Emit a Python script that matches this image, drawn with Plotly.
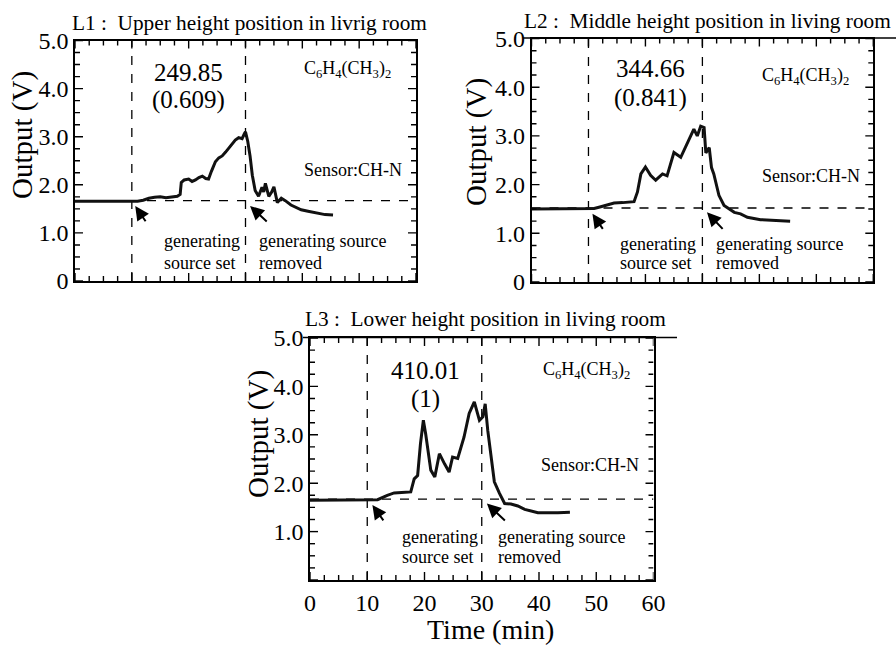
import plotly.graph_objects as go

# ---------------- data ----------------
t1 = [0, 5, 10, 11, 12, 13, 14, 15, 16, 17, 18, 18.5, 18.7, 19.2, 20, 20.6, 21.2, 21.8, 22.4, 23, 23.5,
      24.0, 24.7, 25.3, 25.9, 26.5, 27, 27.6, 28.2, 28.8, 29.4, 29.8, 30.0, 30.4, 30.8, 31.2, 31.7, 32.3,
      32.9, 33.2, 33.5, 34.1, 34.6, 35.0, 35.3, 35.6, 36.3, 37.0, 38, 39, 39.8, 41, 42.7, 44, 45.4]
v1 = [1.66, 1.66, 1.66, 1.66, 1.68, 1.72, 1.74, 1.75, 1.73, 1.75, 1.76, 1.80, 2.05, 2.10, 2.12, 2.07, 2.10,
      2.15, 2.18, 2.13, 2.12, 2.28, 2.48, 2.56, 2.60, 2.68, 2.76, 2.83, 2.93, 2.98, 2.96, 3.06, 3.10, 2.90,
      2.60, 2.20, 1.88, 1.76, 1.95, 1.85, 2.03, 1.76, 1.85, 1.96, 1.78, 1.63, 1.72, 1.67, 1.58, 1.53, 1.48,
      1.45, 1.41, 1.38, 1.37]

t2 = [0, 5, 10, 11, 12, 13.3, 14.5, 16, 18, 18.6, 19.2, 20, 20.9, 21.8, 23, 23.8, 25, 26.2, 27.3, 28.5,
      29.1, 29.7, 30.3, 30.6, 31.2, 31.6, 32.0, 32.9, 33.8, 34.6, 35.6, 36.7, 37.9, 40.2, 42.5, 45.4]
v2 = [1.50, 1.50, 1.50, 1.51, 1.54, 1.59, 1.62, 1.63, 1.65, 1.85, 2.22, 2.36, 2.19, 2.09, 2.22, 2.18, 2.66,
      2.56, 2.83, 3.14, 3.00, 3.20, 3.17, 2.65, 2.76, 2.35, 2.22, 1.78, 1.57, 1.50, 1.43, 1.40, 1.33, 1.28,
      1.26, 1.25]

t3 = [0, 5, 10, 11.8, 13.5, 14.7, 16, 17.6, 18.2, 18.8, 19.3, 19.8, 20.2, 21.1, 21.8, 22.6, 23.5, 24.3,
      24.9, 25.8, 26.9, 27.8, 28.7, 29.6, 30.2, 30.6, 31.05, 32.2, 33.1, 34, 35.1, 36.3, 37.5, 39.8, 43.3,
      45.4]
v3 = [1.65, 1.65, 1.65, 1.66, 1.75, 1.80, 1.81, 1.82, 2.09, 2.16, 2.82, 3.30, 3.02, 2.27, 2.13, 2.61, 2.40,
      2.23, 2.54, 2.51, 2.95, 3.44, 3.68, 3.30, 3.37, 3.64, 3.09, 2.03, 1.79, 1.58, 1.57, 1.53, 1.46, 1.39,
      1.39, 1.40]

baselines = [1.67, 1.52, 1.67]
set_time = 10
removed_time = 30
titles = ["L1 :  Upper height position in livrig room",
          "L2 :  Middle height position in living room",
          "L3 :  Lower height position in living room"]
values = [("249.85", "(0.609)"), ("344.66", "(0.841)"), ("410.01", "(1)")]
ytick_vals = [0, 1, 2, 3, 4, 5]
ytick_text = ["0", "1.0", "2.0", "3.0", "4.0", "5.0"]
ytick_text3 = ["", "1.0", "2.0", "3.0", "4.0", "5.0"]
xtick_vals = [0, 10, 20, 30, 40, 50, 60]
xtick_text = ["0", "10", "20", "30", "40", "50", "60"]
x_tick_step = 2.5
y_tick_step = 0.25
X_MAX, Y_MAX = 60, 5

FONT = "Liberation Serif"
W, H = 896, 645

def px(x):
    return x / W

def py(y):
    return 1 - y / H

# panel frames in pixels: (left, right, bottom, top)
frames = [(75, 416, 281, 40.5), (531.5, 873.3, 282, 38.5), (310, 653.5, 580, 338)]

xtv = [k * x_tick_step for k in range(int(X_MAX / x_tick_step) + 1)]
ytv = [k * y_tick_step for k in range(int(Y_MAX / y_tick_step) + 1)]

fig = go.Figure()

series = [(t1, v1), (t2, v2), (t3, v3)]
for i, (t, v) in enumerate(series):
    sfx = "" if i == 0 else str(i + 1)
    xr, yr = "x" + sfx, "y" + sfx
    L, R, B, T = frames[i]
    x_per_px = X_MAX / (R - L)
    y_per_px = Y_MAX / (B - T)

    fig.add_trace(go.Scatter(x=[0, X_MAX], y=[baselines[i]] * 2, mode="lines",
                             line=dict(color="black", width=1.3, dash="dash"),
                             xaxis=xr, yaxis=yr, showlegend=False, hoverinfo="skip"))
    for tt in (set_time, removed_time):
        fig.add_trace(go.Scatter(x=[tt, tt], y=[0, Y_MAX], mode="lines",
                                 line=dict(color="black", width=1.3, dash="dash"),
                                 xaxis=xr, yaxis=yr, showlegend=False, hoverinfo="skip"))
    fig.add_trace(go.Scatter(x=t, y=v, mode="lines", line=dict(color="#111", width=3),
                             xaxis=xr, yaxis=yr, showlegend=False))

    # inward tick marks on all four sides, built from the tick steps
    tx, ty = [], []
    for xv in xtv:
        major = float(xv).is_integer() and int(xv) % 10 == 0
        ln = (8 if major else 5) * y_per_px
        tx += [xv, xv, None, xv, xv, None]
        ty += [0, ln, None, Y_MAX, Y_MAX - ln, None]
    for yv in ytv:
        major = float(yv).is_integer()
        ln = (8 if major else 5) * x_per_px
        tx += [0, ln, None, X_MAX, X_MAX - ln, None]
        ty += [yv, yv, None, yv, yv, None]
    fig.add_trace(go.Scatter(x=tx, y=ty, mode="lines", connectgaps=False,
                             line=dict(color="black", width=1.4),
                             xaxis=xr, yaxis=yr, showlegend=False, hoverinfo="skip"))

layout = dict(width=W, height=H, margin=dict(l=0, r=0, t=0, b=0, autoexpand=False),
              paper_bgcolor="white", plot_bgcolor="white", showlegend=False)

for i, (L, R, B, T) in enumerate(frames):
    sfx = "" if i == 0 else str(i + 1)
    layout["xaxis" + sfx] = dict(
        domain=[px(L), px(R)], range=[0, X_MAX], anchor="y" + sfx,
        tickmode="array", tickvals=xtick_vals, ticktext=xtick_text,
        showticklabels=(i == 2), ticks="",
        showline=True, linecolor="black", linewidth=1.6, mirror=True,
        showgrid=False, zeroline=False,
        tickfont=dict(family=FONT, size=24, color="black"))
    layout["yaxis" + sfx] = dict(
        domain=[py(B), py(T)], range=[0, Y_MAX], anchor="x" + sfx,
        tickmode="array", tickvals=ytick_vals,
        ticktext=ytick_text3 if i == 2 else ytick_text, ticks="",
        showline=True, linecolor="black", linewidth=1.6, mirror=True,
        showgrid=False, zeroline=False,
        tickfont=dict(family=FONT, size=24, color="black"))
fig.update_layout(**layout)

ann = []
num_pos = [(19.9, 4.33, 3.77), (20.9, 4.39, 3.78), (20.2, 4.33, 3.75)]
chem_pos = [(48, 4.40), (48.1, 4.22), (48.3, 4.33)]
sensor_pos = [(49, 2.30), (49, 2.18), (48.9, 2.37)]
gen_set = [(15.3, 0.83, 0.37), (15.1, 0.79, 0.38), (15.8, 0.89, 0.48)]
gen_rem = [(32.1, 0.83, 0.37), (32.1, 0.79, 0.38), (32.5, 0.89, 0.48)]
arrows1 = [((10.6, 1.56), (12.6, 1.21)), ((10.7, 1.40), (12.7, 1.06)), ((10.9, 1.55), (13.0, 1.20))]
arrows2 = [((30.8, 1.56), (34.0, 1.21)), ((30.8, 1.43), (33.8, 1.06)), ((30.9, 1.58), (34.3, 1.20))]

f = lambda s: dict(family=FONT, size=s, color="black")
for i in range(3):
    sfx = "" if i == 0 else str(i + 1)
    xr, yr = "x" + sfx, "y" + sfx
    xn, y1, y2 = num_pos[i]
    ann.append(dict(x=xn, y=y1, xref=xr, yref=yr, text=values[i][0], showarrow=False, font=f(25),
                    xanchor="center", yanchor="middle"))
    ann.append(dict(x=xn, y=y2, xref=xr, yref=yr, text=values[i][1], showarrow=False, font=f(25),
                    xanchor="center", yanchor="middle"))
    ann.append(dict(x=chem_pos[i][0], y=chem_pos[i][1], xref=xr, yref=yr,
                    text="C<sub>6</sub>H<sub>4</sub>(CH<sub>3</sub>)<sub>2</sub>",
                    showarrow=False, font=f(18), xanchor="center", yanchor="middle"))
    ann.append(dict(x=sensor_pos[i][0], y=sensor_pos[i][1], xref=xr, yref=yr,
                    text="Sensor:CH-N", showarrow=False, font=f(18),
                    xanchor="center", yanchor="middle"))
    for (gx, gy1, gy2), lines in ((gen_set[i], ("generating", "source set")),
                                  (gen_rem[i], ("generating source", "removed"))):
        ann.append(dict(x=gx, y=gy1, xref=xr, yref=yr, text=lines[0], showarrow=False,
                        xanchor="left", yanchor="middle", font=f(18)))
        ann.append(dict(x=gx, y=gy2, xref=xr, yref=yr, text=lines[1], showarrow=False,
                        xanchor="left", yanchor="middle", font=f(18)))
    for (head, tail) in (arrows1[i], arrows2[i]):
        ann.append(dict(x=head[0], y=head[1], ax=tail[0], ay=tail[1], xref=xr, yref=yr,
                        axref=xr, ayref=yr, text="", showarrow=True, arrowhead=2,
                        arrowsize=1.4, arrowwidth=2, arrowcolor="black"))

title_pos = [(70, 23), (522, 21), (303, 319)]
for i, (tx_, ty_) in enumerate(title_pos):
    ann.append(dict(x=px(tx_), y=py(ty_), xref="paper", yref="paper", text=titles[i],
                    showarrow=False, xanchor="left", yanchor="middle", font=f(21.3)))

ytitle_pos = [(22, 135), (477, 142), (258, 434)]
for (tx_, ty_) in ytitle_pos:
    ann.append(dict(x=px(tx_), y=py(ty_), xref="paper", yref="paper", text="Output (V)",
                    showarrow=False, textangle=-90, xanchor="center", yanchor="middle",
                    font=f(29)))

ann.append(dict(x=px(490), y=py(629), xref="paper", yref="paper", text="Time (min)",
                showarrow=False, xanchor="center", yanchor="middle", font=f(28)))

fig.update_layout(annotations=ann)

shapes = [
    dict(type="line", xref="paper", yref="paper", x0=px(523), x1=1, y0=py(38), y1=py(38),
         line=dict(color="black", width=1.6)),
    dict(type="line", xref="paper", yref="paper", x0=px(303), x1=px(677), y0=py(337.5), y1=py(337.5),
         line=dict(color="black", width=1.6)),
]
fig.update_layout(shapes=shapes)

fig.write_html("out.html")
